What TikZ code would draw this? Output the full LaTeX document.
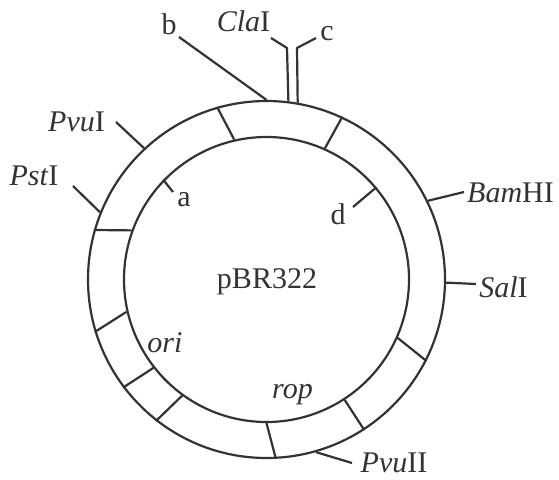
\documentclass[tikz,border=0pt]{standalone}
\usepackage{fontspec}
\setmainfont{Liberation Serif}
\definecolor{ink}{HTML}{333333}
\tikzset{
  ring/.style={circle,draw=ink,line width=2.2pt,inner sep=0pt,fill=none},
  link/.style={draw=ink,line width=2.2pt,line join=round},
  lbl/.style={text=ink,font=\fontsize{30}{30}\selectfont,inner sep=0pt},
}
\begin{document}
\begin{tikzpicture}[x=1pt,y=-1pt]
\useasboundingbox[fill=white] (0,0) rectangle (559,479);
\node[ring,minimum size=357pt] (O) at (266.5,279.5) {};
\node[ring,minimum size=285pt] (I) at (266.5,279.5) {};
% dividers
\draw[link] (O.106.1) -- (I.103.2);
\draw[link] (O.65.1) -- (I.66.1);
\draw[link] (O.164.1) -- (I.160.6);
\draw[link] (O.197.1) -- (I.193.9);
\draw[link] (O.217.6) -- (I.218.9);
\draw[link] (O.232.8) -- (I.234.3);
\draw[link] (O.273.4) -- (I.270.2);
\draw[link] (O.303) -- (I.303.3);
\draw[link] (O.333.8) -- (I.336.1);
% labels
\node[lbl] (b) at (169,24) {b};
\node[lbl] (cla) at (243.5,21) {\textit{Cla}I};
\node[lbl] (c) at (327,34) {c};
\node[lbl] (pvu1) at (76.5,122) {\textit{Pvu}I};
\node[lbl] (pst) at (34,176) {\textit{Pst}I};
\node[lbl] (a) at (184,200) {a};
\node[lbl] (d) at (338,214) {d};
\node[lbl] (bam) at (510.5,193) {\textit{Bam}HI};
\node[lbl] (sal) at (503.5,287) {\textit{Sal}I};
\node[lbl] (pbr) at (267,282) {pBR322};
\node[lbl] (ori) at (165,343) {\textit{ori}};
\node[lbl] (rop) at (292.5,395) {\textit{rop}};
\node[lbl] (pvu2) at (394,463) {\textit{Pvu}II};
% free ends
\coordinate (bE) at (179,37);
\coordinate (claE) at (271,38);
\coordinate (claK) at (287,48);
\coordinate (cE) at (316,38);
\coordinate (cK) at (297,48);
\coordinate (pvu1E) at (116,122);
\coordinate (pstE) at (73,186);
\coordinate (aE) at (173,192);
\coordinate (dE) at (353,207);
\coordinate (bamE) at (464,192);
\coordinate (salE) at (476,284);
\coordinate (pvu2E) at (352,463);
% leaders
\draw[link] (O.90.5) -- (bE);
\draw[link] (O.83.4) -- (claK) -- (claE);
\draw[link] (O.80.2) -- (cK) -- (cE);
\draw[link] (O.133.9) -- (pvu1E);
\draw[link] (O.158.2) -- (pstE);
\draw[link] (I.136.4) -- (aE);
\draw[link] (I.40.9) -- (dE);
\draw[link] (O.26.6) -- (bamE);
\draw[link] (O.359.5) -- (salE);
\draw[link] (O.286.8) -- (pvu2E);
\end{tikzpicture}
\end{document}
